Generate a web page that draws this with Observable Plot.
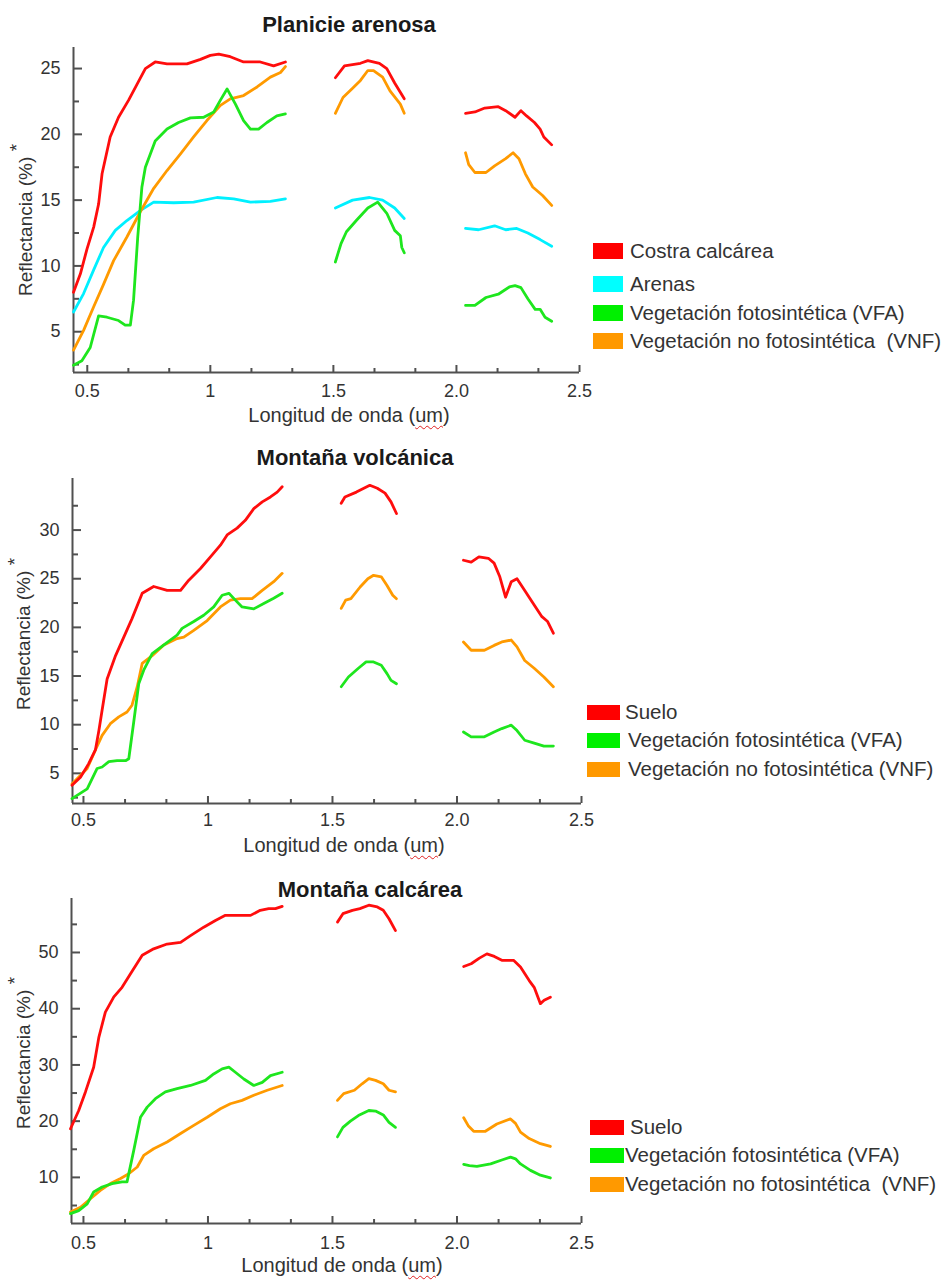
<!DOCTYPE html>
<html><head><meta charset="utf-8">
<script src="https://cdn.jsdelivr.net/npm/d3@7"></script>
<script src="https://cdn.jsdelivr.net/npm/@observablehq/plot@0.6"></script>
<style>
body{margin:0;background:#fff;}
#root{position:relative;width:947px;height:1281px;overflow:hidden;font-family:"Liberation Sans",Arial,sans-serif;background:#fff;}
.t{position:absolute;white-space:nowrap;transform:translate(-50%,-50%);line-height:1;}
.title{font-weight:bold;font-size:22px;color:#1a1a1a;}
.xl{font-size:20px;color:#333;}
.yl{font-size:19px;color:#333;transform:translate(-50%,-50%) rotate(-90deg);}
.sw{position:absolute;}
.lt{position:absolute;font-size:20.5px;color:#333;white-space:pre;transform:translateY(-50%);line-height:1;}
.sq{text-decoration:underline wavy #e02020;text-decoration-thickness:1px;text-underline-offset:3px;}
.pl{position:absolute;left:0;}
</style></head><body><div id="root"></div>
<script>
// ---------- data ----------
const xMajor = [0.5, 1, 1.5, 2, 2.5];
const xTickLabels = ["0.5", "1", "1.5", "2.0", "2.5"];
const xMinor = [0.667, 0.833, 1.167, 1.333, 1.667, 1.833, 2.167, 2.333];

const p1Title = "Planicie arenosa";
const p2Title = "Montaña volcánica";
const p3Title = "Montaña calcárea";

const p1Names = ["Costra calcárea", "Arenas", "Vegetación fotosintética (VFA)", "Vegetación no fotosintética  (VNF)"];
const p2Names = ["Suelo", "Vegetación fotosintética (VFA)", "Vegetación no fotosintética (VNF)"];
const p3Names = ["Suelo", "Vegetación fotosintética (VFA)", "Vegetación no fotosintética  (VNF)"];

const p1YMajor = [5, 10, 15, 20, 25];
const p1YMinor = [2.5, 7.5, 12.5, 17.5, 22.5];
const p2YMajor = [5, 10, 15, 20, 25, 30];
const p2YMinor = [2.5, 7.5, 12.5, 17.5, 22.5, 27.5, 32.5];
const p3YMajor = [10, 20, 30, 40, 50];
const p3YMinor = [5, 15, 25, 35, 45, 55];

// Panel 1: Planicie arenosa  (segments of [wavelength um, reflectance %])
const p1Costra = [
 [[0.444,8.0],[0.472,9.4],[0.499,11.3],[0.526,12.95],[0.546,14.7],[0.56,17.0],[0.593,19.8],[0.627,21.3],[0.668,22.6],[0.702,23.8],[0.736,25.0],[0.776,25.5],[0.824,25.35],[0.905,25.35],[0.96,25.7],[1.0,26.0],[1.034,26.1],[1.081,25.9],[1.135,25.5],[1.203,25.5],[1.257,25.2],[1.305,25.5]],
 [[1.508,24.3],[1.545,25.2],[1.61,25.4],[1.64,25.6],[1.687,25.4],[1.717,25.0],[1.749,23.9],[1.788,22.7]],
 [[2.037,21.6],[2.075,21.7],[2.115,22.0],[2.17,22.1],[2.2,21.8],[2.238,21.3],[2.262,21.8],[2.285,21.4],[2.317,20.9],[2.34,20.4],[2.355,19.8],[2.387,19.2]]
];
const p1Arenas = [
 [[0.444,6.5],[0.485,7.9],[0.526,9.7],[0.566,11.4],[0.614,12.7],[0.661,13.45],[0.715,14.2],[0.77,14.85],[0.851,14.8],[0.932,14.85],[1.027,15.2],[1.095,15.1],[1.163,14.85],[1.244,14.9],[1.305,15.1]],
 [[1.508,14.4],[1.578,15.0],[1.647,15.2],[1.70,15.0],[1.749,14.4],[1.788,13.6]],
 [[2.037,12.85],[2.09,12.75],[2.155,13.05],[2.2,12.75],[2.245,12.85],[2.29,12.5],[2.34,12.0],[2.387,11.5]]
];
const p1VFA = [
 [[0.444,2.45],[0.478,2.8],[0.512,3.8],[0.546,6.2],[0.58,6.1],[0.627,5.85],[0.654,5.5],[0.675,5.5],[0.688,7.4],[0.705,12.2],[0.722,16.0],[0.736,17.5],[0.776,19.5],[0.824,20.4],[0.871,20.9],[0.919,21.25],[0.973,21.3],[1.014,21.7],[1.041,22.6],[1.068,23.45],[1.102,22.3],[1.135,21.05],[1.163,20.4],[1.196,20.4],[1.23,20.9],[1.27,21.4],[1.305,21.55]],
 [[1.508,10.3],[1.531,11.7],[1.553,12.6],[1.593,13.45],[1.64,14.4],[1.68,14.85],[1.717,14.0],[1.749,12.7],[1.772,12.3],[1.778,11.4],[1.788,11.0]],
 [[2.037,7.0],[2.075,7.0],[2.12,7.6],[2.17,7.85],[2.215,8.4],[2.238,8.5],[2.262,8.35],[2.29,7.5],[2.32,6.7],[2.34,6.7],[2.36,6.1],[2.387,5.8]]
];
const p1VNF = [
 [[0.444,3.6],[0.485,5.1],[0.526,6.9],[0.566,8.6],[0.607,10.4],[0.661,12.2],[0.715,14.1],[0.77,15.9],[0.824,17.25],[0.878,18.5],[0.932,19.8],[0.986,21.05],[1.041,22.2],[1.081,22.7],[1.135,22.95],[1.19,23.6],[1.244,24.35],[1.285,24.7],[1.305,25.15]],
 [[1.508,21.6],[1.539,22.8],[1.578,23.5],[1.61,24.1],[1.64,24.85],[1.663,24.85],[1.70,24.35],[1.73,23.3],[1.772,22.3],[1.788,21.6]],
 [[2.037,18.6],[2.05,17.7],[2.075,17.1],[2.12,17.1],[2.155,17.6],[2.2,18.15],[2.23,18.6],[2.254,18.15],[2.28,17.0],[2.31,16.0],[2.35,15.35],[2.387,14.6]]
];

// Panel 2: Montaña volcánica
const p2Suelo = [
 [[0.454,3.77],[0.488,4.6],[0.521,6.0],[0.548,7.4],[0.562,9.4],[0.575,11.5],[0.595,14.7],[0.629,17.1],[0.662,19.0],[0.695,20.9],[0.736,23.5],[0.782,24.2],[0.836,23.8],[0.89,23.8],[0.923,24.85],[0.97,26.05],[1.01,27.25],[1.05,28.45],[1.077,29.5],[1.117,30.2],[1.15,31.0],[1.184,32.2],[1.218,32.9],[1.251,33.4],[1.278,33.9],[1.298,34.45]],
 [[1.535,32.75],[1.55,33.4],[1.596,33.9],[1.65,34.6],[1.68,34.3],[1.711,33.8],[1.735,32.9],[1.757,31.7]],
 [[2.026,26.9],[2.057,26.7],[2.088,27.25],[2.126,27.1],[2.149,26.6],[2.172,25.2],[2.195,23.1],[2.218,24.7],[2.241,25.0],[2.272,23.8],[2.31,22.3],[2.341,21.1],[2.364,20.6],[2.387,19.4]]
];
const p2VFA = [
 [[0.454,2.4],[0.515,3.4],[0.555,5.5],[0.575,5.65],[0.602,6.2],[0.635,6.3],[0.669,6.3],[0.682,6.5],[0.702,10.3],[0.722,14.2],[0.742,15.6],[0.776,17.3],[0.823,18.2],[0.876,19.2],[0.896,19.9],[0.943,20.6],[0.983,21.25],[1.023,22.1],[1.057,23.3],[1.084,23.5],[1.11,22.8],[1.137,22.1],[1.184,21.9],[1.224,22.45],[1.264,23.0],[1.298,23.5]],
 [[1.535,13.9],[1.564,14.9],[1.604,15.8],[1.635,16.45],[1.665,16.45],[1.696,16.1],[1.719,15.25],[1.735,14.55],[1.757,14.2]],
 [[2.026,9.25],[2.057,8.75],[2.11,8.75],[2.149,9.25],[2.18,9.6],[2.218,9.95],[2.241,9.4],[2.272,8.4],[2.31,8.1],[2.349,7.8],[2.387,7.8]]
];
const p2VNF = [
 [[0.454,3.9],[0.515,5.5],[0.548,7.4],[0.575,8.9],[0.608,10.1],[0.642,10.8],[0.675,11.3],[0.695,12.0],[0.716,13.9],[0.736,16.3],[0.776,17.1],[0.823,18.2],[0.876,18.85],[0.903,19.0],[0.943,19.7],[0.997,20.7],[1.05,22.1],[1.09,22.8],[1.13,22.95],[1.177,22.95],[1.218,23.8],[1.264,24.7],[1.298,25.55]],
 [[1.535,21.95],[1.553,22.8],[1.574,22.95],[1.611,24.15],[1.642,25.0],[1.665,25.35],[1.696,25.2],[1.719,24.3],[1.742,23.3],[1.757,22.95]],
 [[2.026,18.5],[2.057,17.65],[2.11,17.65],[2.149,18.15],[2.18,18.5],[2.218,18.7],[2.241,18.0],[2.272,16.6],[2.31,15.8],[2.349,14.9],[2.387,13.9]]
];

// Panel 3: Montaña calcárea
const p3Suelo = [
 [[0.448,18.65],[0.481,21.9],[0.508,25.2],[0.541,29.6],[0.562,34.95],[0.588,39.4],[0.622,42.1],[0.655,43.8],[0.689,46.2],[0.736,49.5],[0.782,50.65],[0.836,51.5],[0.89,51.8],[0.93,53.0],[0.983,54.5],[1.03,55.7],[1.07,56.6],[1.117,56.6],[1.171,56.6],[1.21,57.5],[1.244,57.8],[1.271,57.8],[1.298,58.2]],
 [[1.52,55.4],[1.542,56.9],[1.58,57.5],[1.61,57.8],[1.646,58.4],[1.68,58.1],[1.704,57.5],[1.727,56.0],[1.753,53.9]],
 [[2.027,47.5],[2.057,48.0],[2.09,49.0],[2.12,49.75],[2.15,49.3],[2.18,48.6],[2.227,48.6],[2.255,47.4],[2.29,45.0],[2.31,43.8],[2.335,40.9],[2.35,41.5],[2.375,42.05]]
];
const p3VFA = [
 [[0.448,3.55],[0.481,4.1],[0.515,5.3],[0.541,7.4],[0.575,8.3],[0.615,8.9],[0.655,9.2],[0.675,9.2],[0.702,14.8],[0.729,20.7],[0.756,22.5],[0.789,24.0],[0.829,25.2],[0.876,25.8],[0.93,26.35],[0.99,27.25],[1.023,28.4],[1.057,29.3],[1.084,29.6],[1.11,28.7],[1.144,27.5],[1.184,26.35],[1.218,26.9],[1.251,28.1],[1.298,28.7]],
 [[1.52,17.2],[1.542,18.9],[1.572,20.0],[1.604,21.0],[1.646,21.9],[1.673,21.8],[1.704,21.1],[1.727,19.8],[1.753,18.9]],
 [[2.027,12.3],[2.05,12.1],[2.08,11.95],[2.135,12.4],[2.18,13.1],[2.215,13.6],[2.235,13.3],[2.255,12.4],[2.295,11.25],[2.335,10.4],[2.375,9.9]]
];
const p3VNF = [
 [[0.448,3.85],[0.488,4.7],[0.528,6.2],[0.568,7.7],[0.608,8.9],[0.649,9.8],[0.682,10.65],[0.716,11.85],[0.742,13.9],[0.782,15.1],[0.836,16.3],[0.89,17.8],[0.943,19.25],[0.997,20.7],[1.05,22.2],[1.09,23.1],[1.137,23.7],[1.184,24.6],[1.238,25.5],[1.298,26.35]],
 [[1.52,23.7],[1.545,24.9],[1.588,25.5],[1.619,26.65],[1.646,27.55],[1.673,27.25],[1.704,26.65],[1.727,25.5],[1.753,25.2]],
 [[2.027,20.6],[2.045,19.2],[2.067,18.2],[2.114,18.2],[2.16,19.5],[2.215,20.4],[2.235,19.6],[2.255,18.05],[2.29,16.9],[2.335,16.0],[2.375,15.5]]
];

// ---------- styling ----------
const RED = "#ff0d0d", CYAN = "#00f0ff", GREEN = "#1ee61e", ORANGE = "#ff9a00";
const AX = "#505050";
const root = document.getElementById("root");

function rows(segs, name) {
  const out = [];
  segs.forEach((seg, k) => seg.forEach(([w, r]) => out.push({w, r, seg: name + k})));
  return out;
}

function panel(cfg) {
  const marks = [
    Plot.ruleY([cfg.yDomain[0]], {stroke: AX, strokeWidth: 2}),
    Plot.ruleX([cfg.xDomain[0]], {stroke: AX, strokeWidth: 2}),
    Plot.axisX(xMajor, {anchor: "bottom", tickSize: -7, tickFormat: () => "", stroke: AX, strokeWidth: 2, label: null}),
    Plot.axisX(xMinor, {anchor: "bottom", tickSize: -4, tickFormat: () => "", stroke: AX, strokeWidth: 2, label: null}),
    Plot.axisX(xMajor, {anchor: "bottom", tickSize: 0, tickPadding: cfg.xPad, tickFormat: d => xTickLabels[xMajor.indexOf(d)], fontSize: 18, fill: "#333", label: null}),
    Plot.axisY(cfg.yMajor, {anchor: "left", tickSize: -9, tickFormat: () => "", stroke: AX, strokeWidth: 2, label: null}),
    Plot.axisY(cfg.yMinor, {anchor: "left", tickSize: -6, tickFormat: () => "", stroke: AX, strokeWidth: 2, label: null}),
    Plot.axisY(cfg.yMajor, {anchor: "left", tickSize: 0, tickPadding: 13, fontSize: 18, fill: "#333", label: null})
  ];
  cfg.series.forEach(([segs, color], i) => {
    marks.push(Plot.line(rows(segs, "s" + i), {x: "w", y: "r", z: "seg", stroke: color, strokeWidth: 2.8}));
  });
  const svg = Plot.plot({
    width: 600, height: cfg.height,
    marginTop: cfg.mt, marginBottom: cfg.mb, marginLeft: cfg.ml, marginRight: cfg.mr,
    x: {domain: cfg.xDomain, label: null},
    y: {domain: cfg.yDomain, label: null},
    style: {fontFamily: '"Liberation Sans", Arial, sans-serif', fontSize: "18px", color: "#333", background: "transparent", overflow: "visible"},
    marks
  });
  svg.classList.add("pl");
  svg.style.top = cfg.top + "px";
  root.appendChild(svg);
}

panel({top: 0, height: 405, mt: 47, mb: 33, ml: 73, mr: 21, xPad: 12,
  xDomain: [0.444, 2.5], yDomain: [1.9, 26.6], yMajor: p1YMajor, yMinor: p1YMinor,
  series: [[p1Arenas, CYAN], [p1VNF, ORANGE], [p1VFA, GREEN], [p1Costra, RED]]});
panel({top: 420, height: 413, mt: 58, mb: 30, ml: 72, mr: 19, xPad: 10,
  xDomain: [0.456, 2.5], yDomain: [1.9, 35.3], yMajor: p2YMajor, yMinor: p2YMinor,
  series: [[p2VNF, ORANGE], [p2VFA, GREEN], [p2Suelo, RED]]});
panel({top: 860, height: 397, mt: 38, mb: 34, ml: 71, mr: 19, xPad: 13,
  xDomain: [0.452, 2.5], yDomain: [1.8, 59.6], yMajor: p3YMajor, yMinor: p3YMinor,
  series: [[p3VNF, ORANGE], [p3VFA, GREEN], [p3Suelo, RED]]});

// ---------- text ----------
function addText(cls, html, x, y) {
  const d = document.createElement("div");
  d.className = "t " + cls;
  d.innerHTML = html;
  d.style.left = x + "px"; d.style.top = y + "px";
  root.appendChild(d);
}
addText("title", p1Title, 349, 25);
addText("title", p2Title, 355, 458);
addText("title", p3Title, 370, 890);
const xLabel = 'Longitud de onda (<span class="sq">um</span>)';
addText("xl", xLabel, 349, 415);
addText("xl", xLabel, 344, 845);
addText("xl", xLabel, 342, 1265);
const yLabel = 'Reflectancia (%) <span style="position:relative;top:-0.45em">*</span>';
addText("yl", yLabel, 25, 220);
addText("yl", yLabel, 23, 634);
addText("yl", yLabel, 23, 1053);

function legend(names, colors, sx, sw, sh, ys, txs) {
  names.forEach((n, i) => {
    const s = document.createElement("div");
    s.className = "sw";
    s.style.left = sx + "px"; s.style.top = (ys[i] - sh / 2) + "px";
    s.style.width = sw + "px"; s.style.height = sh + "px";
    s.style.background = colors[i];
    root.appendChild(s);
    const t = document.createElement("div");
    t.className = "lt";
    t.textContent = n;
    t.style.left = txs[i] + "px"; t.style.top = ys[i] + "px";
    root.appendChild(t);
  });
}
legend(p1Names, ["#ff0000", "#00ffff", "#00f000", "#ff9900"], 593, 30, 16, [251, 284, 313, 341], [630, 630, 630, 630]);
legend(p2Names, ["#ff0000", "#00f000", "#ff9900"], 587, 33, 15, [712, 740, 769], [625, 628, 628]);
legend(p3Names, ["#ff0000", "#00f000", "#ff9900"], 590, 34, 15, [1127, 1155, 1184], [630, 625, 625]);
</script></body></html>
